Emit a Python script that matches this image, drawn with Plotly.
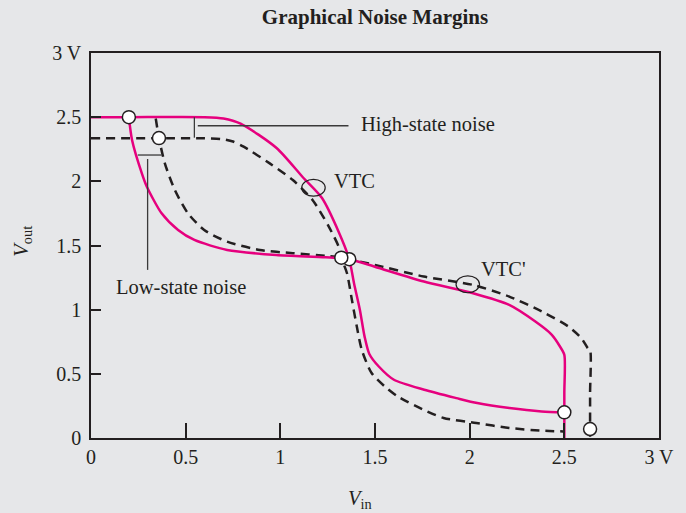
import plotly.graph_objects as go

# ---- data ----
tick_vals = [0, 0.5, 1, 1.5, 2, 2.5, 3]
x_tick_text = ["0", "0.5", "1", "1.5", "2", "2.5", "3 V"]
y_tick_text = ["0", "0.5", "1", "1.5", "2", "2.5", "3 V"]

# VTC (solid magenta)
vtc_x = [0, 0.2, 0.6, 0.7, 0.79, 0.98, 1.12, 1.22, 1.31, 1.364, 1.39, 1.42, 1.445, 1.47, 1.52, 1.6, 1.76, 1.93, 2.04, 2.21, 2.38, 2.5]
vtc_y = [2.5, 2.5, 2.5, 2.49, 2.45, 2.26, 2.03, 1.87, 1.6, 1.393, 1.2, 1.0, 0.79, 0.655, 0.557, 0.454, 0.376, 0.311, 0.272, 0.233, 0.207, 0.2]

# VTC' (solid magenta)
vtcp_x = [0.2, 0.217, 0.269, 0.295, 0.373, 0.46, 0.546, 0.719, 0.979, 1.239, 1.364, 1.499, 1.758, 2.018, 2.209, 2.347, 2.434, 2.477, 2.5, 2.5, 2.5]
vtcp_y = [2.5, 2.32, 2.06, 1.958, 1.751, 1.621, 1.543, 1.465, 1.426, 1.408, 1.393, 1.335, 1.219, 1.128, 1.037, 0.907, 0.804, 0.713, 0.648, 0.35, 0]

# dashed VTC
dvtc_x = [0, 0.4, 0.6, 0.685, 0.75, 0.806, 0.944, 1.066, 1.17, 1.256, 1.308, 1.322, 1.352, 1.378, 1.404, 1.43, 1.482, 1.551, 1.62, 1.75, 1.862, 2.035, 2.209, 2.382, 2.494]
dvtc_y = [2.335, 2.335, 2.335, 2.33, 2.31, 2.27, 2.14, 2.01, 1.855, 1.647, 1.491, 1.405, 1.284, 1.076, 0.868, 0.687, 0.506, 0.402, 0.324, 0.225, 0.156, 0.117, 0.078, 0.057, 0.051]

# dashed VTC'
dvtcp_x = [0.342, 0.359, 0.39, 0.443, 0.512, 0.598, 0.719, 0.892, 1.066, 1.239, 1.322, 1.499, 1.758, 2.018, 2.209, 2.382, 2.521, 2.59, 2.624, 2.636, 2.636, 2.636]
dvtcp_y = [2.49, 2.337, 2.14, 1.932, 1.751, 1.621, 1.53, 1.465, 1.44, 1.42, 1.405, 1.349, 1.258, 1.193, 1.102, 0.985, 0.869, 0.778, 0.70, 0.687, 0.35, 0]

# marked points (open circles)
pts_x = [0.2, 1.364, 2.5, 0.359, 1.322, 2.636]
pts_y = [2.5, 1.393, 0.2, 2.337, 1.405, 0.07]

# label positions
label_text = ["VTC", "VTC'", "High-state noise", "Low-state noise"]
label_x = [1.272, 2.047, 1.413, 0.475]
label_y = [2.0, 1.32, 2.446, 1.18]
ellipse_cx = [1.175, 1.99]
ellipse_cy = [1.95, 1.198]

MAGENTA = "#e6007e"
DARK = "#231f20"
BG = "#e6e7e9"
FONT = "Liberation Serif"

fig = go.Figure()

fig.add_trace(go.Scatter(x=dvtc_x, y=dvtc_y, mode="lines",
                         line=dict(color=DARK, width=2.5, dash="9px,6px", shape="spline", smoothing=0.7),
                         hoverinfo="skip", showlegend=False))
fig.add_trace(go.Scatter(x=dvtcp_x, y=dvtcp_y, mode="lines",
                         line=dict(color=DARK, width=2.5, dash="9px,6px", shape="spline", smoothing=0.7),
                         hoverinfo="skip", showlegend=False))
fig.add_trace(go.Scatter(x=vtc_x, y=vtc_y, mode="lines",
                         line=dict(color=MAGENTA, width=2.5, shape="spline", smoothing=0.7),
                         hoverinfo="skip", showlegend=False))
fig.add_trace(go.Scatter(x=vtcp_x, y=vtcp_y, mode="lines",
                         line=dict(color=MAGENTA, width=2.5, shape="spline", smoothing=0.7),
                         hoverinfo="skip", showlegend=False))
fig.add_trace(go.Scatter(x=pts_x, y=pts_y, mode="markers",
                         marker=dict(size=13, color="white", line=dict(color=DARK, width=1.5)),
                         cliponaxis=False, hoverinfo="skip", showlegend=False))

# noise-margin brackets
bracket_lines = [
    (0.546, 2.5, 0.546, 2.34),
    (0.564, 2.433, 1.36, 2.433),
    (0.247, 2.205, 0.373, 2.205),
    (0.299, 2.174, 0.299, 1.31),
]
for x0, y0, x1, y1 in bracket_lines:
    fig.add_shape(type="line", x0=x0, y0=y0, x1=x1, y1=y1, xref="x", yref="y",
                  line=dict(color="#3a3a3a", width=1.3))

# small ellipses marking the curves
for cx, cy in zip(ellipse_cx, ellipse_cy):
    fig.add_shape(type="circle", xref="x", yref="y",
                  x0=cx - 0.062, x1=cx + 0.062, y0=cy - 0.066, y1=cy + 0.066,
                  line=dict(color=DARK, width=1.2))

anchors = ["left", "left", "left", "center"]
for t, x, y, a in zip(label_text, label_x, label_y, anchors):
    fig.add_annotation(x=x, y=y, xref="x", yref="y", text=t, showarrow=False,
                       xanchor=a, yanchor="middle",
                       font=dict(family=FONT, size=20.5, color=DARK))

# axis titles
fig.add_annotation(x=0.474, y=-0.16, xref="paper", yref="paper",
                   text="<i>V</i><sub>in</sub>", showarrow=False,
                   xanchor="center", yanchor="middle",
                   font=dict(family=FONT, size=20.5, color=DARK))
fig.add_annotation(x=-0.12, y=0.512, xref="paper", yref="paper",
                   text="<i>V</i><sub>out</sub>", showarrow=False, textangle=-90,
                   xanchor="center", yanchor="middle",
                   font=dict(family=FONT, size=20.5, color=DARK))

axis_common = dict(range=[0, 3], tickvals=tick_vals, showgrid=False, zeroline=False,
                   showline=True, mirror=True, linecolor=DARK, linewidth=1.5,
                   ticks="inside", tickcolor=DARK, tickwidth=1.5,
                   tickfont=dict(family=FONT, size=20, color=DARK))

fig.update_xaxes(ticktext=x_tick_text, ticklen=15, **axis_common)
fig.update_yaxes(ticktext=y_tick_text, ticklen=10, ticklabelstandoff=4, **axis_common)

fig.update_layout(
    width=686, height=513,
    margin=dict(l=91, r=17, t=53, b=75),
    paper_bgcolor=BG, plot_bgcolor=BG,
    title=dict(text="<b>Graphical Noise Margins</b>", x=0.5, xref="paper",
               y=1 - 17 / 513, yref="container", yanchor="middle",
               font=dict(family=FONT, size=21, color=DARK)),
)

fig.write_html("out.html", config={"displayModeBar": False},
               post_script="document.body.style.margin='0';document.body.style.overflow='hidden';")
